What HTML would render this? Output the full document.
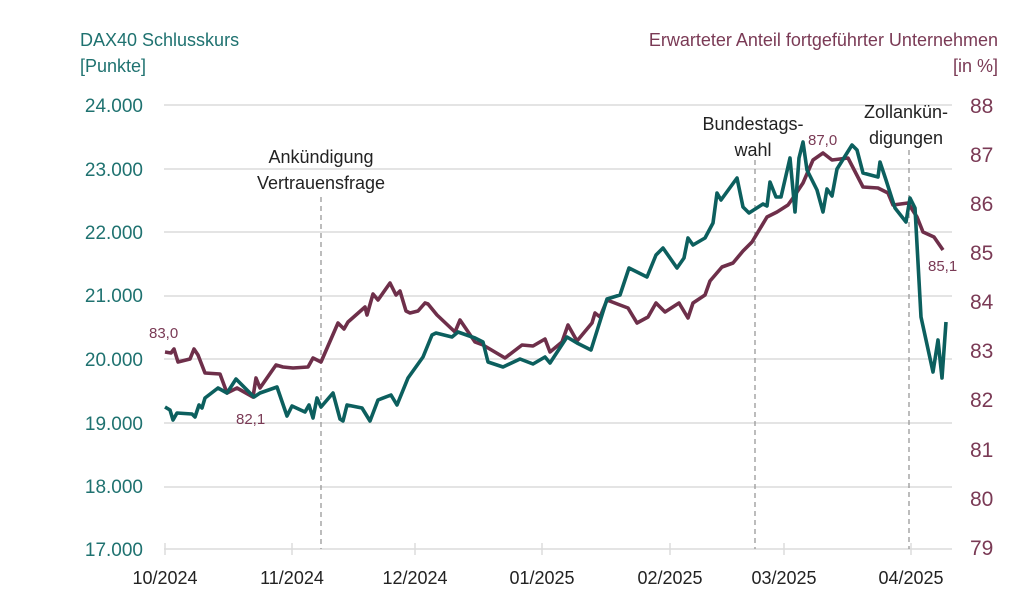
<!DOCTYPE html>
<html><head><meta charset="utf-8"><style>
html,body{margin:0;padding:0;background:#fff;}
svg{display:block;font-family:"Liberation Sans",sans-serif;}
</style></head><body>
<svg width="1024" height="595" viewBox="0 0 1024 595">
<g stroke="#dcdcdc" stroke-width="1.5">
<line x1="164" y1="105" x2="952" y2="105"/>
<line x1="164" y1="169" x2="952" y2="169"/>
<line x1="164" y1="232" x2="952" y2="232"/>
<line x1="164" y1="296" x2="952" y2="296"/>
<line x1="164" y1="359" x2="952" y2="359"/>
<line x1="164" y1="423" x2="952" y2="423"/>
<line x1="164" y1="487" x2="952" y2="487"/>
<line x1="164" y1="549" x2="952" y2="549"/>
<line x1="165" y1="543" x2="165" y2="555"/>
<line x1="292" y1="543" x2="292" y2="555"/>
<line x1="415" y1="543" x2="415" y2="555"/>
<line x1="542" y1="543" x2="542" y2="555"/>
<line x1="670" y1="543" x2="670" y2="555"/>
<line x1="784" y1="543" x2="784" y2="555"/>
<line x1="911" y1="543" x2="911" y2="555"/>
</g>
<g stroke="#999" stroke-width="1.3" stroke-dasharray="5,4">
<line x1="321" y1="197" x2="321" y2="549"/>
<line x1="755" y1="160" x2="755" y2="549"/>
<line x1="909" y1="150" x2="909" y2="549"/>
</g>
<g font-size="19" fill="#1f7270" text-anchor="end">
<text x="143" y="112">24.000</text>
<text x="143" y="176">23.000</text>
<text x="143" y="239">22.000</text>
<text x="143" y="302">21.000</text>
<text x="143" y="366">20.000</text>
<text x="143" y="430">19.000</text>
<text x="143" y="493">18.000</text>
<text x="143" y="556">17.000</text>
</g>
<g font-size="21" fill="#7a3a55" text-anchor="start">
<text x="970" y="113">88</text>
<text x="970" y="162">87</text>
<text x="970" y="211">86</text>
<text x="970" y="260">85</text>
<text x="970" y="309">84</text>
<text x="970" y="358">83</text>
<text x="970" y="407">82</text>
<text x="970" y="457">81</text>
<text x="970" y="506">80</text>
<text x="970" y="555">79</text>
</g>
<g font-size="18" fill="#222" text-anchor="middle">
<text x="165" y="584">10/2024</text>
<text x="292" y="584">11/2024</text>
<text x="415" y="584">12/2024</text>
<text x="542" y="584">01/2025</text>
<text x="670" y="584">02/2025</text>
<text x="784" y="584">03/2025</text>
<text x="911" y="584">04/2025</text>
<text x="321" y="163">Ankündigung</text>
<text x="321" y="189">Vertrauensfrage</text>
<text x="753" y="130">Bundestags-</text>
<text x="753" y="156">wahl</text>
<text x="906" y="118">Zollankün-</text>
<text x="906" y="144">digungen</text>
</g>
<text x="80" y="46" font-size="18" fill="#1f7270">DAX40 Schlusskurs</text>
<text x="80" y="72" font-size="18" fill="#1f7270">[Punkte]</text>
<text x="998" y="46" font-size="18" fill="#7a3a55" text-anchor="end">Erwarteter Anteil fortgeführter Unternehmen</text>
<text x="998" y="72" font-size="18" fill="#7a3a55" text-anchor="end">[in %]</text>
<g font-size="15" fill="#7a3a55">
<text x="149" y="338">83,0</text>
<text x="236" y="424">82,1</text>
<text x="808" y="145">87,0</text>
<text x="928" y="271">85,1</text>
</g>
<polyline fill="none" stroke="#6e2f4a" stroke-width="3.6" stroke-linejoin="round" points="165,352 171,353 174,349 178,362 190,359 194,349 198,355 205,373 220,374 227,393 237,388 253,397 256,378 260,388 276,365 283,367 293,368 308,367 313,358 321,362 338,323 344,329 348,322 365,307 367,315 373,294 378,300 390,283 396,295 400,291 406,311 410,313 418,311 425,303 428,304 437,315 455,332 460,320 475,342 483,345 505,358 522,345 533,346 545,339 550,352 562,342 568,325 577,341 592,323 595,313 600,317 607,300 620,305 628,308 637,323 648,317 656,303 665,312 679,303 688,318 693,303 705,295 710,281 722,267 733,263 743,251 752,242 767,217 777,212 788,205 793,198 803,183 813,160 823,153 832,160 848,158 863,187 878,188 888,193 893,205 908,203 917,217 923,232 934,237 943,250"/>
<polyline fill="none" stroke="#0c5f5e" stroke-width="3.6" stroke-linejoin="round" points="165,407 170,410 173,420 177,413 192,414 195,417 199,405 202,408 205,398 218,388 227,393 236,379 254,397 260,393 277,387 287,416 292,406 305,412 309,405 313,418 317,398 321,407 333,393 340,419 343,421 347,405 362,408 370,421 378,400 391,395 397,405 408,378 423,357 432,335 436,333 452,337 458,332 475,338 483,342 488,362 503,367 520,359 533,364 545,357 550,363 567,337 577,343 591,350 607,299 620,295 629,268 647,277 656,255 663,248 677,268 684,258 688,238 693,245 705,238 713,223 717,193 721,200 737,178 743,207 749,213 763,204 767,206 770,182 776,197 781,197 790,158 795,212 799,158 803,142 807,170 817,190 823,212 827,189 832,196 837,169 852,145 857,150 863,173 878,177 880,162 886,180 895,208 906,222 910,198 915,208 921,317 933,372 938,340 942,378 946,322"/>
</svg>
</body></html>
